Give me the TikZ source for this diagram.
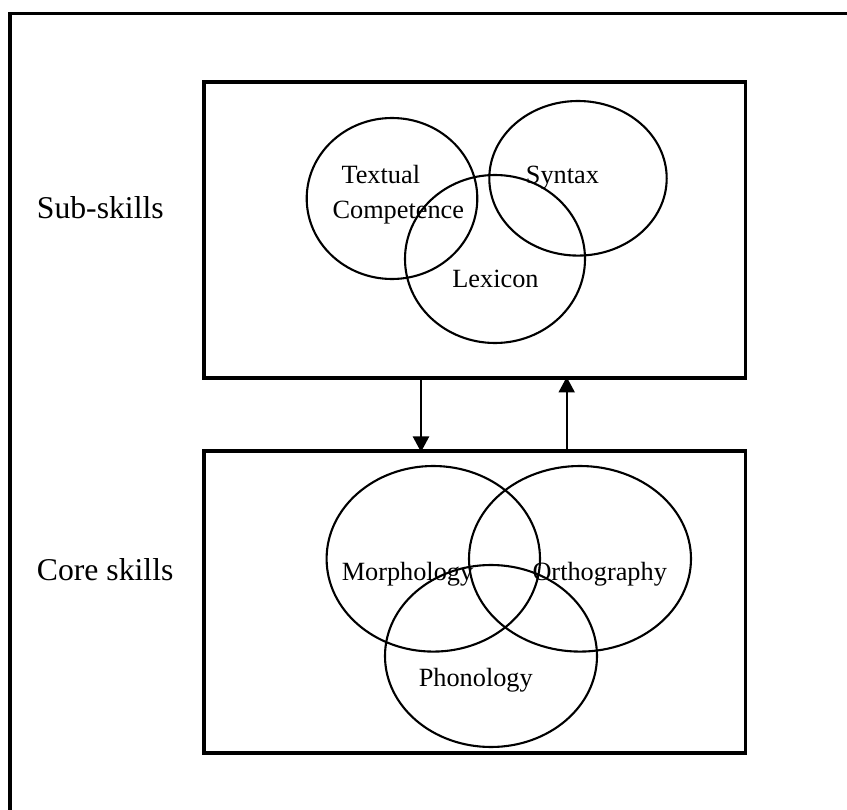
\documentclass[tikz,border=0pt]{standalone}
\usepackage{fontspec}
\setmainfont{Liberation Serif}
\usetikzlibrary{arrows.meta}
\tikzset{
  frame/.style={line width=3.8pt},
  boxx/.style={draw, line width=3.8pt, inner sep=0pt, outer sep=0pt},
  venn/.style={line width=2.1pt},
  lab/.style={inner sep=0pt, anchor=base, font=\fontsize{26.3}{30}\selectfont},
  side/.style={inner sep=0pt, anchor=base west, font=\fontsize{31.7}{36}\selectfont},
  arr/.style={line width=2.2pt, -{Triangle[width=16pt,length=15.5pt]}}
}
\begin{document}
\begin{tikzpicture}[x=1pt,y=-1pt]
\useasboundingbox (0,0) rectangle (847,810);
% outer frame (right and bottom sides fall outside the picture)
\draw[frame] (847,13.5) -- (10.3,13.5) -- (10.3,810);
% boxes
\node[boxx, minimum width=541.5pt, minimum height=296pt] (sub) at (474.75,230) {};
\node[boxx, minimum width=541.5pt, minimum height=302pt] (core) at (474.75,602) {};
% side labels
\node[side] (sublab) at (36.7,218.3) {Sub-skills};
\node[side] (corelab) at (36.7,580) {Core skills};
% upper Venn
\draw[venn] (392,198.5) ellipse [x radius=85.3, y radius=80.5];
\draw[venn] (495,259) ellipse [x radius=90, y radius=84];
\draw[venn] (578,178.3) ellipse [x radius=88.7, y radius=77.3];
\node[lab] (tc1) at (380.8,183.3) {Textual};
\node[lab] (tc2) at (398.3,218.3) {Competence};
\node[lab] (lex) at (495.5,287.3) {Lexicon};
\node[lab] (syn) at (562.5,183.3) {Syntax};
% lower Venn
\draw[venn] (433.3,558.8) ellipse [x radius=106.7, y radius=92.8];
\draw[venn] (580,558.8) ellipse [x radius=111, y radius=92.8];
\draw[venn] (491,656) ellipse [x radius=106, y radius=91];
\node[lab] (mor) at (407.5,580) {Morphology};
\node[lab] (ort) at (599.7,580) {Orthography};
\node[lab] (pho) at (475.8,686) {Phonology};
% arrows
\coordinate (dn) at (421,0);
\coordinate (up) at (566.7,0);
\draw[arr] (dn |- sub.south) -- ([yshift=-1pt]dn |- core.north);
\draw[arr] (up |- core.north) -- ([yshift=1pt]up |- sub.south);
\end{tikzpicture}
\end{document}
